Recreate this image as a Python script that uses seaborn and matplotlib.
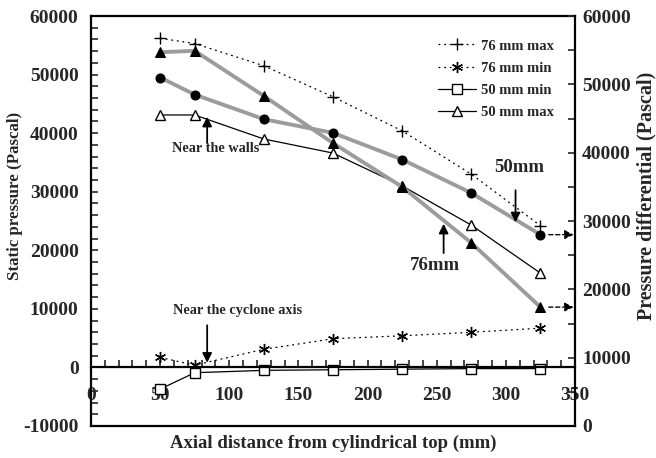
import matplotlib
matplotlib.use("Agg")
import matplotlib.pyplot as plt
from matplotlib.ticker import MultipleLocator
from matplotlib.lines import Line2D
import seaborn as sns

# ---- data ----
x_mm = [50, 75, 125, 175, 225, 275, 325]
max76 = [56200, 55300, 51500, 46200, 40400, 33000, 24200]
min76 = [1700, 400, 3100, 4900, 5400, 6000, 6700]
min50 = [-3700, -900, -500, -400, -300, -200, -200]
max50 = [43100, 43100, 39000, 36600, 31000, 24300, 16100]
# pressure differential (right axis)
diff50 = [51000, 48500, 44900, 42900, 39000, 34100, 28000]
diff76 = [54700, 54900, 48300, 41400, 35000, 26800, 17400]

xticks = [0, 50, 100, 150, 200, 250, 300, 350]
left_ticks = [-10000, 0, 10000, 20000, 30000, 40000, 50000, 60000]
right_ticks = [0, 10000, 20000, 30000, 40000, 50000, 60000]

sns.set_style("white")
plt.rcParams['font.family'] = ['Liberation Serif', 'DejaVu Serif']
plt.rcParams['font.weight'] = 'bold'
plt.rcParams['axes.unicode_minus'] = False

fig = plt.figure(figsize=(6.56, 4.58), dpi=100)
ax = fig.add_axes([91/656, 32/458, 484/656, 410/458])
ax2 = ax.twinx()

lw_frame = 1.6
gray = '#9c9c9c'

# gray differential curves (right axis)
sns.lineplot(x=x_mm, y=diff50, ax=ax2, color=gray, lw=2.8, marker='o', ms=6.5,
             markerfacecolor='black', markeredgecolor='black', zorder=3)
sns.lineplot(x=x_mm, y=diff76, ax=ax2, color=gray, lw=2.8, marker='^', ms=7.5,
             markerfacecolor='black', markeredgecolor='black', zorder=3)

# static pressure series (left axis)
dot = (0, (1.5, 3))
sns.lineplot(x=x_mm, y=max76, ax=ax, color='black', lw=0.9, ls=dot,
             marker='+', ms=8, markeredgecolor='black', markeredgewidth=1)
sns.lineplot(x=x_mm, y=min76, ax=ax, color='black', lw=0.9, ls=dot,
             marker=(6, 2, 0), ms=8, markeredgecolor='black', markeredgewidth=1)
sns.lineplot(x=x_mm, y=min50, ax=ax, color='black', lw=0.9,
             marker='s', ms=7, markerfacecolor='white', markeredgecolor='black', markeredgewidth=1)
sns.lineplot(x=x_mm, y=max50, ax=ax, color='black', lw=0.9,
             marker='^', ms=7, markerfacecolor='white', markeredgecolor='black', markeredgewidth=1)

ax.set_xlim(0, 350)
ax.set_ylim(-10000, 60000)
ax2.set_ylim(0, 60000)

ax.set_xticks(xticks)
ax.set_yticks(left_ticks)
ax2.set_yticks(right_ticks)
ax.xaxis.set_minor_locator(MultipleLocator(10))
ax.yaxis.set_minor_locator(MultipleLocator(2000))
ax2.yaxis.set_minor_locator(MultipleLocator(5000))

tick_fs = 14
ax.tick_params(axis='x', which='both', direction='in', length=5, width=1.2, pad=14,
               labelsize=tick_fs, bottom=True, top=False)
ax.tick_params(axis='y', which='both', direction='in', length=5, width=1.2, pad=9,
               labelsize=tick_fs, left=True, right=False)
ax2.tick_params(axis='y', which='both', direction='in', length=5, width=1.2, pad=5,
                labelsize=tick_fs)
for lab in ax.get_xticklabels() + ax.get_yticklabels() + ax2.get_yticklabels():
    lab.set_fontweight('bold')

ax.spines['bottom'].set_position(('data', 0))
for s in ['left', 'top', 'bottom']:
    ax.spines[s].set_linewidth(lw_frame)
    ax.spines[s].set_color('black')
ax.spines['right'].set_visible(False)
ax2.spines['left'].set_visible(False)
ax2.spines['top'].set_visible(False)
for s in ['right', 'bottom']:
    ax2.spines[s].set_linewidth(lw_frame)
    ax2.spines[s].set_color('black')

ax.set_xlabel('Axial distance from cylindrical top (mm)', fontsize=13.5, fontweight='bold')
ax.xaxis.set_label_coords(0.5, -0.022)
ax.set_ylabel('Static pressure (Pascal)', fontsize=12.2, fontweight='bold')
ax.yaxis.set_label_coords(-0.141, 0.561)
ax2.set_ylabel('Pressure differential (Pascal)', fontsize=14.5, fontweight='bold')
ax2.yaxis.set_label_coords(1.128, 0.561)

# legend
handles = [
    Line2D([], [], color='black', lw=0.9, ls=dot, marker='+', ms=8, mec='black'),
    Line2D([], [], color='black', lw=0.9, ls=dot, marker=(6, 2, 0), ms=8, mec='black'),
    Line2D([], [], color='black', lw=0.9, marker='s', ms=7, mfc='white', mec='black'),
    Line2D([], [], color='black', lw=0.9, marker='^', ms=7, mfc='white', mec='black'),
]
labels = ['76 mm max', '76 mm min', '50 mm min', '50 mm max']
ax2.legend(handles, labels, loc='upper right', bbox_to_anchor=(0.983, 0.975), frameon=False,
           prop={'family': 'Liberation Serif', 'weight': 'bold', 'size': 10.5},
           handlelength=2.6, handletextpad=0.3, labelspacing=0.62)

arrow = dict(arrowstyle='-|>', color='black', lw=1.3, mutation_scale=14, shrinkA=0, shrinkB=0)
ann_fs = 10.3
ax.text(90.5, 37400, 'Near the walls', fontsize=ann_fs, fontweight='bold', ha='center', va='center')
ax.annotate('', xy=(84, 42800), xytext=(84, 38300), arrowprops=arrow)
ax.text(106, 9800, 'Near the cyclone axis', fontsize=ann_fs, fontweight='bold', ha='center', va='center')
ax.annotate('', xy=(84, 800), xytext=(84, 7200), arrowprops=arrow)

ax2.text(310, 37900, '50mm', fontsize=13.5, fontweight='bold', ha='center', va='center')
ax2.annotate('', xy=(307, 29800), xytext=(307, 34500), arrowprops=arrow)
ax2.text(249, 23500, '76mm', fontsize=13.5, fontweight='bold', ha='center', va='center')
ax2.annotate('', xy=(255, 29600), xytext=(255, 25300), arrowprops=arrow)

dash_arrow = dict(arrowstyle='-|>', color='black', lw=1.0, ls=(0, (3, 2)), mutation_scale=13,
                  shrinkA=6, shrinkB=0)
ax2.annotate('', xy=(349, diff50[-1]), xytext=(x_mm[-1], diff50[-1]), arrowprops=dash_arrow)
ax2.annotate('', xy=(349, diff76[-1]), xytext=(x_mm[-1], diff76[-1]), arrowprops=dash_arrow)

fig.savefig('out.png', dpi=100)
